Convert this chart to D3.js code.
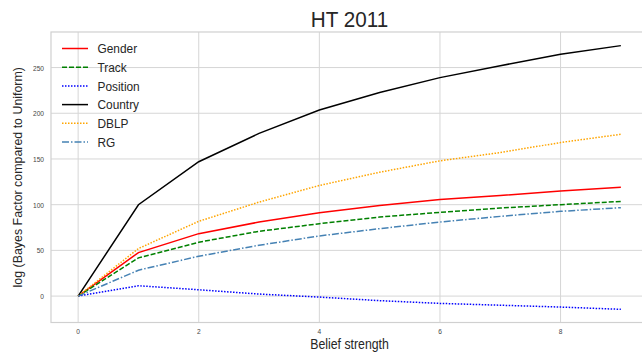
<!DOCTYPE html>
<html>
<head>
<meta charset="utf-8">
<script src="https://cdn.jsdelivr.net/npm/d3@7"></script>
<style>
  body { margin: 0; background: #fff; }
  svg { font-family: "Liberation Sans", Arial, sans-serif; }
</style>
</head>
<body>
<div id="chart"></div>
<script>
// belief strength on x
const beliefs = [0, 1, 2, 3, 4, 5, 6, 7, 8, 9];

const gender   = [0, 47.6, 68.3, 81, 91.2, 99.2, 105.7, 110, 115, 119];
const track    = [0, 41.8, 58.9, 70.9, 79.2, 86.5, 91.6, 96.3, 100, 103.6];
const position = [0, 11.3, 6.9, 2.2, -1.1, -5, -8, -10, -12, -14.5];
const country  = [0, 99.9, 147, 178, 203.5, 222.7, 239, 252, 264.5, 274];
const dblp     = [0, 52, 81.8, 102.8, 121, 135.5, 148, 157, 168, 177];
const rg       = [0, 28.3, 43.6, 55.6, 65.8, 73.8, 81, 87.2, 92.7, 96.7];

const xTicks = [0, 2, 4, 6, 8];
const yTicks = [0, 50, 100, 150, 200, 250];

const series = [
    {name: "Gender", values: gender, color: "red", dash: null},
    {name: "Track", values: track, color: "green", dash: "5,2"},
    {name: "Position", values: position, color: "blue", dash: "1.5,1.5"},
    {name: "Country", values: country, color: "black", dash: null},
    {name: "DBLP", values: dblp, color: "orange", dash: "1.5,1.5"},
    {name: "RG", values: rg, color: "steelblue", dash: "7,2,1.5,2"}
];

const width = 642, height = 352;
const plotLeft = 51, plotRight = 648, plotTop = 32, plotBottom = 322.5;
// the picture text is a bit narrow, squeeze it horizontally
const squeeze = 0.88;

const svg = d3.select("#chart").append("svg")
    .attr("width", width)
    .attr("height", height);

const x = d3.scaleLinear().domain([-0.45, 9.45]).range([plotLeft, plotRight]);
const y = d3.scaleLinear().domain([-28.9, 288.9]).range([plotBottom, plotTop]);

// grid
svg.append("g").selectAll("line")
    .data(xTicks).enter().append("line")
    .attr("x1", d => x(d)).attr("x2", d => x(d))
    .attr("y1", plotTop).attr("y2", plotBottom)
    .style("stroke", "#d6d6d6").style("stroke-width", 1);
svg.append("g").selectAll("line")
    .data(yTicks).enter().append("line")
    .attr("x1", plotLeft).attr("x2", plotRight)
    .attr("y1", d => y(d)).attr("y2", d => y(d))
    .style("stroke", "#d6d6d6").style("stroke-width", 1);

// frame
svg.append("rect")
    .attr("x", plotLeft).attr("y", plotTop)
    .attr("width", plotRight - plotLeft).attr("height", plotBottom - plotTop)
    .style("fill", "none").style("stroke", "#d0d0d0").style("stroke-width", 1.2);

// tick labels
svg.append("g").selectAll("text")
    .data(xTicks).enter().append("text")
    .attr("transform", d => "translate(" + x(d) + ",334) scale(" + squeeze + ",1)")
    .attr("text-anchor", "middle")
    .style("font-size", "7.5px").style("fill", "#444")
    .text(d => d);
svg.append("g").selectAll("text")
    .data(yTicks).enter().append("text")
    .attr("transform", d => "translate(44," + (y(d) + 3) + ") scale(" + squeeze + ",1)")
    .attr("text-anchor", "end")
    .style("font-size", "7.5px").style("fill", "#444")
    .text(d => d);

// lines
const line = d3.line()
    .x((d, i) => x(beliefs[i]))
    .y(d => y(d));

svg.append("g").selectAll("path")
    .data(series).enter().append("path")
    .attr("d", d => line(d.values))
    .style("fill", "none")
    .style("stroke", d => d.color)
    .style("stroke-width", 1.5)
    .style("stroke-dasharray", d => d.dash);

// legend
const legend = svg.append("g").selectAll("g")
    .data(series).enter().append("g")
    .attr("transform", (d, i) => "translate(0," + (48.5 + i * 18.7) + ")");
legend.append("line")
    .attr("x1", 62).attr("x2", 88)
    .style("stroke", d => d.color)
    .style("stroke-width", 1.5)
    .style("stroke-dasharray", d => d.dash);
legend.append("text")
    .attr("transform", "translate(97.5,4.8) scale(" + squeeze + ",1)")
    .style("font-size", "13.5px").style("fill", "#262626")
    .text(d => d.name);

// title & axis labels
svg.append("text")
    .attr("transform", "translate(" + (plotLeft + plotRight) / 2 + ",26.5) scale(0.92,1)")
    .attr("text-anchor", "middle")
    .style("font-size", "22.5px").style("fill", "#262626")
    .text("HT 2011");

svg.append("text")
    .attr("transform", "translate(" + (plotLeft + plotRight) / 2 + ",349) scale(" + squeeze + ",1)")
    .attr("text-anchor", "middle")
    .style("font-size", "14px").style("fill", "#262626")
    .text("Belief strength");

svg.append("text")
    .attr("transform", "translate(22," + ((plotTop + plotBottom) / 2) + ") rotate(-90)")
    .attr("text-anchor", "middle")
    .style("font-size", "12.4px").style("fill", "#262626")
    .text("log (Bayes Factor compared to Uniform)");
</script>
</body>
</html>
